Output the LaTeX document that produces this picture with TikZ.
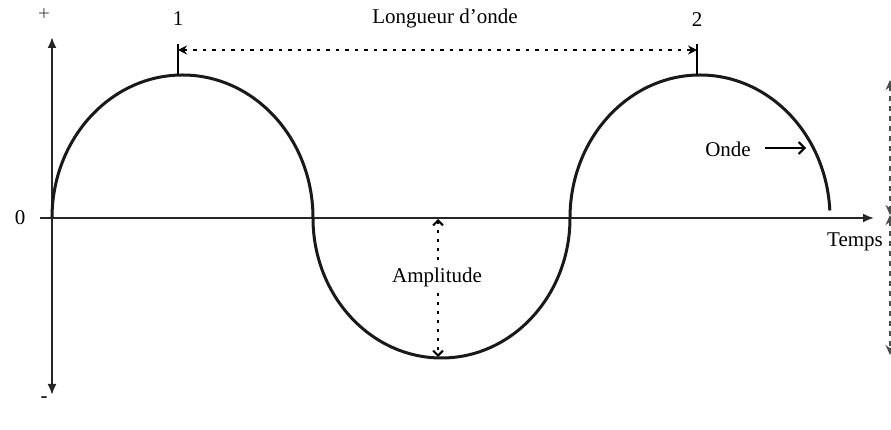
\documentclass[tikz,border=0pt]{standalone}
\usepackage{fontspec}
\setmainfont{Liberation Serif}
\usetikzlibrary{arrows.meta}
\begin{document}
\begin{tikzpicture}[x=1pt,y=1pt,
  lbl/.style={inner sep=1pt,font=\fontsize{21}{24}\selectfont},
  axisline/.style={line width=1.9pt,draw=black!85},
  wave/.style={line width=3pt,draw=black!90},
  tipA/.style={-{Latex[length=11pt,width=9pt]}},
  dotarrow/.style={line width=2.2pt,dash pattern=on 3.5pt off 6pt,{Stealth[length=9pt,width=9pt]}-{Stealth[length=9pt,width=9pt]}},
  amparrow/.style={line width=2pt,dash pattern=on 3pt off 6pt,{Straight Barb[length=5pt,width=10pt]}-{Straight Barb[length=5pt,width=10pt]}},
  edgearrow/.style={line width=1.4pt,draw=black!70,dash pattern=on 5pt off 5pt,{Stealth[length=10pt,width=9pt]}-{Stealth[length=10pt,width=9pt]}}]
\useasboundingbox (0,0) rectangle (891,430);
% axes
\coordinate (vtop) at (52,393);
\coordinate (vbot) at (52,35);
\coordinate (hleft) at (40,212);
\coordinate (hright) at (874,212);
\draw[axisline,{Latex[length=11pt,width=9pt]}-{Latex[length=11pt,width=9pt]}] (vtop) -- (vbot);
\draw[axisline,tipA] (hleft) -- (hright);
\node[lbl,text=black!70] (plus) at (44,415) {+};
\node[lbl] (minus) at (44,30) {-};
\node[lbl] (zero) at (20,212) {0};
\node[lbl] (temps) at (855,188) {Temps};
% wave
\coordinate (w0) at (52,212);
\draw[wave] (w0) arc[start angle=180,end angle=0,x radius=130.5,y radius=143]
  arc[start angle=180,end angle=360,x radius=128.5,y radius=140]
  arc[start angle=180,end angle=3,x radius=130,y radius=143];
% wavelength
\coordinate (p1) at (178,355);
\coordinate (p2) at (697,355);
\coordinate (t1) at (178,386);
\coordinate (t2) at (697,386);
\draw[line width=1.9pt] (p1) -- (t1);
\draw[line width=1.9pt] (p2) -- (t2);
\coordinate (a1) at (178,380);
\coordinate (a2) at (697,380);
\draw[dotarrow] (a1) -- (a2);
\node[lbl] (n1) at (178,411) {1};
\node[lbl] (n2) at (697,410) {2};
\node[lbl] (lo) at (445,412) {Longueur d'onde};
% amplitude
\coordinate (am1) at (438,211);
\coordinate (am2) at (438,73);
\draw[amparrow] (am1) -- (am2);
\node[lbl,fill=white,inner sep=3pt] (amp) at (437,153) {Amplitude};
% onde
\node[lbl] (onde) at (728,281) {Onde};
\coordinate (ostart) at (765,282);
\coordinate (oend) at (806,282);
\draw[line width=2pt,-{Straight Barb[length=6pt,width=12pt]}] (ostart) -- (oend);
% right-edge cut arrows
\coordinate (r1) at (890,350);
\coordinate (r2) at (890,215);
\coordinate (r3) at (890,75);
\draw[edgearrow] (r1) -- (r2);
\draw[edgearrow] (r2) -- (r3);
\end{tikzpicture}
\end{document}
